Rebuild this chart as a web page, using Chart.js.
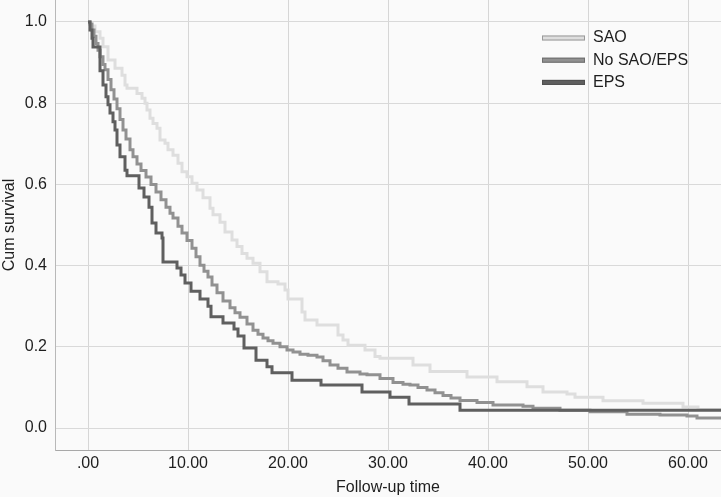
<!DOCTYPE html>
<html>
<head>
<meta charset="utf-8">
<script src="https://cdn.jsdelivr.net/npm/chart.js@4"></script>
<style>
  html, body { margin: 0; padding: 0; background: #fafafa; }
  canvas { display: block; background: #fafafa; }
</style>
</head>
<body>
<canvas id="survivalChart" width="721" height="497"></canvas>
<script>
// series names, in legend order
const seriesNames = ['SAO', 'No SAO/EPS', 'EPS'];

// follow-up time (x) and cumulative survival (y) at each step
const saoTime = [0, 0.2, 0.7, 1.2, 1.5, 2.0, 2.7, 3.4, 3.7, 3.9, 4.9, 5.4, 5.7, 5.9, 6.2, 6.5, 6.9, 7.2, 7.7, 8.0,
    8.5, 9.0, 9.4, 9.9, 10.4, 10.9, 11.5, 12.2, 12.5, 13.2, 13.7, 14.4, 14.9, 15.4, 15.9, 16.5, 17.2, 17.9, 19.0, 19.7,
    20.0, 21.4, 21.7, 22.9, 25.0, 25.5, 26.0, 27.7, 28.7, 29.2, 32.5, 34.2, 37.9, 40.9, 43.9, 45.5, 47.9, 48.7, 51.5, 55.5,
    59.5, 61.0, 64];
const saoSurv = [1.0, 0.99, 0.976, 0.96, 0.939, 0.906, 0.886, 0.869, 0.845, 0.837, 0.824, 0.812, 0.80, 0.783, 0.763, 0.75, 0.738, 0.709, 0.701, 0.685,
    0.672, 0.652, 0.631, 0.619, 0.603, 0.586, 0.567, 0.541, 0.525, 0.507, 0.483, 0.463, 0.447, 0.43, 0.418, 0.406, 0.385, 0.36, 0.355, 0.34,
    0.318, 0.286, 0.266, 0.254, 0.229, 0.217, 0.204, 0.192, 0.176, 0.172, 0.155, 0.139, 0.126, 0.114, 0.102, 0.089, 0.084, 0.076, 0.067, 0.061,
    0.052, 0.046, 0.046];

const midTime = [0, 0.2, 0.4, 0.6, 0.8, 1.0, 1.2, 1.5, 1.7, 2.0, 2.3, 2.6, 2.9, 3.2, 3.5, 3.8, 4.2, 4.5, 4.9, 5.3,
    5.8, 6.3, 6.8, 7.3, 7.8, 8.2, 8.5, 9.0, 9.4, 9.9, 10.4, 10.8, 11.2, 11.6, 12.0, 12.4, 12.9, 13.5, 14.2, 14.7,
    15.2, 15.9, 16.5, 17.0, 17.5, 18.0, 18.5, 19.2, 19.9, 20.5, 21.2, 22.0, 22.9, 23.5, 24.2, 25.0, 25.9, 27.2, 27.9, 29.2,
    30.5, 31.5, 32.2, 33.0, 33.9, 34.7, 35.5, 36.3, 37.2, 38.9, 40.5, 43.5, 44.5, 47.2, 50.2, 53.9, 57.2, 59.9, 60.9, 64];
const midSurv = [1.0, 0.995, 0.98, 0.965, 0.947, 0.93, 0.914, 0.895, 0.882, 0.858, 0.833, 0.81, 0.786, 0.76, 0.734, 0.712, 0.685, 0.668, 0.65, 0.634,
    0.618, 0.60, 0.581, 0.562, 0.544, 0.529, 0.517, 0.497, 0.48, 0.462, 0.443, 0.422, 0.401, 0.386, 0.372, 0.352, 0.333, 0.313, 0.296, 0.284,
    0.273, 0.256, 0.241, 0.231, 0.222, 0.215, 0.209, 0.20, 0.192, 0.187, 0.182, 0.179, 0.175, 0.166, 0.155, 0.147, 0.138, 0.133, 0.131, 0.122,
    0.112, 0.108, 0.106, 0.10, 0.094, 0.087, 0.08, 0.074, 0.068, 0.063, 0.057, 0.054, 0.049, 0.044, 0.04, 0.034, 0.032, 0.03, 0.025, 0.025];

const epsTime = [0, 0.2, 0.4, 0.5, 1.2, 1.5, 1.8, 2.0, 2.2, 2.5, 2.7, 2.9, 3.2, 3.7, 3.9, 5.1, 5.6, 6.1, 6.4, 6.8,
    7.4, 7.5, 8.9, 9.3, 9.7, 10.3, 11.2, 12.0, 12.3, 13.5, 14.6, 15.0, 15.6, 16.8, 17.9, 18.4, 20.4, 23.3, 27.4, 30.2,
    32.1, 37.2, 64];
const epsSurv = [1.0, 0.98, 0.96, 0.938, 0.88, 0.845, 0.816, 0.796, 0.776, 0.754, 0.734, 0.697, 0.668, 0.635, 0.621, 0.591, 0.569, 0.544, 0.505, 0.48,
    0.468, 0.409, 0.394, 0.377, 0.357, 0.337, 0.318, 0.30, 0.274, 0.259, 0.244, 0.227, 0.197, 0.167, 0.151, 0.136, 0.118, 0.106, 0.089, 0.076,
    0.059, 0.044, 0.044];

// axis ticks
const xTickValues = [0, 10, 20, 30, 40, 50, 60];
const xTickLabels = ['.00', '10.00', '20.00', '30.00', '40.00', '50.00', '60.00'];
const yTickValues = [0, 0.2, 0.4, 0.6, 0.8, 1.0];
const yTickLabels = ['0.0', '0.2', '0.4', '0.6', '0.8', '1.0'];

const lineColors = ['#dedede', '#919191', '#5f5f5f'];
const swatchEdges = ['#9a9a9a', '#6e6e6e', '#505050'];
const fontFamily = '"Liberation Sans", Arial, Helvetica, sans-serif';

const toPoints = (times, surv) => times.map((t, i) => ({x: t, y: surv[i]}));

const seriesPoints = [
    toPoints(saoTime, saoSurv),
    toPoints(midTime, midSurv),
    toPoints(epsTime, epsSurv)
];

const datasets = seriesNames.map((name, i) => ({
    label: name,
    data: seriesPoints[i],
    borderColor: lineColors[i],
    backgroundColor: lineColors[i],
    borderWidth: 3,
    stepped: true,
    pointRadius: 0,
    fill: false,
    order: seriesNames.length - i
}));

// legend drawn inside the plot, top right
const insideLegend = {
    id: 'insideLegend',
    afterDraw(chart) {
        const ctx = chart.ctx;
        ctx.save();
        seriesNames.forEach((name, i) => {
            const y = 38 + i * 22.2;
            ctx.fillStyle = lineColors[i];
            ctx.fillRect(542, y - 2.5, 43, 5);
            ctx.strokeStyle = swatchEdges[i];
            ctx.lineWidth = 1;
            ctx.strokeRect(542.5, y - 2, 42, 4);
            ctx.fillStyle = '#1e1e1e';
            ctx.font = '16px ' + fontFamily;
            ctx.textBaseline = 'middle';
            ctx.textAlign = 'left';
            ctx.fillText(name, 593, y);
        });
        ctx.restore();
    }
};

Chart.defaults.font.family = fontFamily;
Chart.defaults.font.size = 16;
Chart.defaults.color = '#1e1e1e';

const chart = new Chart(document.getElementById('survivalChart'), {
    type: 'line',
    data: {datasets},
    plugins: [insideLegend],
    options: {
        responsive: false,
        animation: false,
        layout: {padding: 0, autoPadding: false},
        plugins: {
            legend: {display: false},
            tooltip: {enabled: false}
        },
        scales: {
            x: {
                type: 'linear',
                min: -3.3,
                max: 63.3,
                afterBuildTicks: scale => {
                    scale.ticks = xTickValues.map(v => ({value: v}));
                },
                afterFit: scale => {
                    scale.height = 47;
                    scale.paddingLeft = 0;
                    scale.paddingRight = 0;
                },
                ticks: {
                    padding: 4,
                    maxRotation: 0,
                    callback: (v, i) => xTickLabels[i]
                },
                grid: {color: '#d6d6d6', drawTicks: false},
                border: {color: '#a8a8a8', width: 1},
                title: {
                    display: true,
                    text: 'Follow-up time',
                    padding: {top: 0, bottom: 0}
                }
            },
            y: {
                type: 'linear',
                min: -0.054,
                max: 1.054,
                afterBuildTicks: scale => {
                    scale.ticks = yTickValues.map(v => ({value: v}));
                },
                afterFit: scale => {
                    scale.width = 55;
                    scale.paddingTop = 0;
                    scale.paddingBottom = 0;
                },
                ticks: {
                    padding: 8,
                    callback: (v, i) => yTickLabels[i]
                },
                grid: {color: '#d9d9d9', drawTicks: false},
                border: {color: '#b8b8b8', width: 1},
                title: {
                    display: true,
                    text: 'Cum survival',
                    padding: {top: 0, bottom: 0}
                }
            }
        }
    }
});
</script>
</body>
</html>
